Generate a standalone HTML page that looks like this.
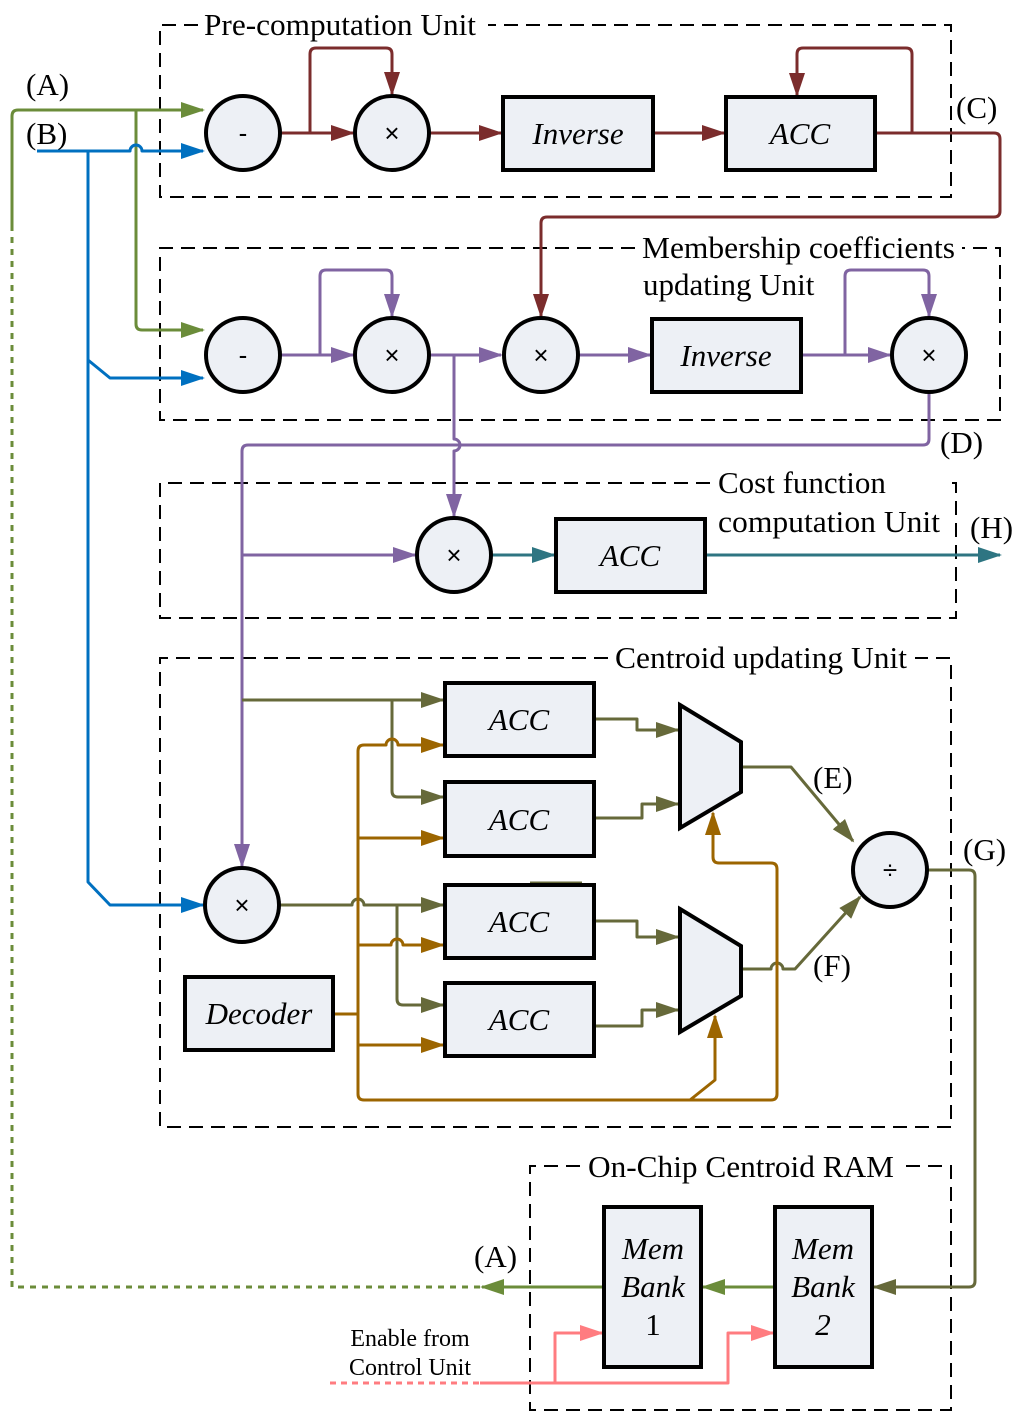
<!DOCTYPE html>
<html><head><style>body{margin:0;background:#fff}svg{display:block}</style></head><body>
<svg width="1024" height="1422" viewBox="0 0 1024 1422" xmlns="http://www.w3.org/2000/svg" font-family="Liberation Serif, serif">
<defs>
<style>.l{fill:none;stroke-width:3;stroke-linejoin:round}.bx{fill:#edf0f5;stroke:#000;stroke-width:4}.d{fill:none;stroke:#000;stroke-width:2;stroke-dasharray:14,8}</style>
<marker id="aG" markerWidth="24" markerHeight="18" refX="22" refY="9" orient="auto" markerUnits="userSpaceOnUse"><path d="M0,1L24,9L0,17z" fill="#6b8c3a"/></marker>
<marker id="aB" markerWidth="24" markerHeight="18" refX="22" refY="9" orient="auto" markerUnits="userSpaceOnUse"><path d="M0,1L24,9L0,17z" fill="#0070c0"/></marker>
<marker id="aR" markerWidth="24" markerHeight="18" refX="22" refY="9" orient="auto" markerUnits="userSpaceOnUse"><path d="M0,1L24,9L0,17z" fill="#7b2c2c"/></marker>
<marker id="aP" markerWidth="24" markerHeight="18" refX="22" refY="9" orient="auto" markerUnits="userSpaceOnUse"><path d="M0,1L24,9L0,17z" fill="#8064a2"/></marker>
<marker id="aT" markerWidth="24" markerHeight="18" refX="22" refY="9" orient="auto" markerUnits="userSpaceOnUse"><path d="M0,1L24,9L0,17z" fill="#2e7582"/></marker>
<marker id="aO" markerWidth="24" markerHeight="18" refX="22" refY="9" orient="auto" markerUnits="userSpaceOnUse"><path d="M0,1L24,9L0,17z" fill="#66693a"/></marker>
<marker id="aY" markerWidth="24" markerHeight="18" refX="22" refY="9" orient="auto" markerUnits="userSpaceOnUse"><path d="M0,1L24,9L0,17z" fill="#9c6500"/></marker>
<marker id="aK" markerWidth="24" markerHeight="18" refX="22" refY="9" orient="auto" markerUnits="userSpaceOnUse"><path d="M0,1L24,9L0,17z" fill="#ff7c80"/></marker>
</defs>

<path class="d" d="M198,25H160V197H951V25H488"/>
<path class="d" d="M635,248H160V420H1000V248H962"/>
<path class="d" d="M710,483H160V618H956V483H945"/>
<path class="d" d="M608,658H160V1127H951V658H915"/>
<path class="d" d="M580,1166H530V1410H951V1166H905"/>
<g font-size="31" fill="#000">
<text x="204" y="35" textLength="272" lengthAdjust="spacingAndGlyphs">Pre-computation Unit</text>
<text x="642" y="258" textLength="313" lengthAdjust="spacingAndGlyphs">Membership coefficients</text>
<text x="643" y="295">updating Unit</text>
<text x="718" y="493">Cost function</text>
<text x="718" y="532" textLength="222" lengthAdjust="spacingAndGlyphs">computation Unit</text>
<text x="615" y="668" textLength="292" lengthAdjust="spacingAndGlyphs">Centroid updating Unit</text>
<text x="588" y="1177" textLength="306" lengthAdjust="spacingAndGlyphs">On-Chip Centroid RAM</text>
<text x="26" y="95">(A)</text><text x="26" y="144">(B)</text>
<text x="956" y="118">(C)</text><text x="940" y="453">(D)</text>
<text x="970" y="538">(H)</text><text x="813" y="788">(E)</text>
<text x="813" y="976">(F)</text><text x="963" y="860">(G)</text>
<text x="474" y="1267">(A)</text>
</g>
<text x="410" y="1346" font-size="24" text-anchor="middle">Enable from</text>
<text x="410" y="1375" font-size="24" text-anchor="middle">Control Unit</text>

<path class="l" stroke="#6b8c3a" d="M12,225V116Q12,110 18,110H203" marker-end="url(#aG)"/>
<path class="l" stroke="#6b8c3a" d="M136,110V324Q136,330 142,330H203" marker-end="url(#aG)"/>
<path class="l" stroke="#6b8c3a" stroke-dasharray="6,6" d="M12,225V1287H480"/>
<path class="l" stroke="#6b8c3a" d="M604,1287H482" marker-end="url(#aG)"/>
<path class="l" stroke="#6b8c3a" d="M775,1287H703" marker-end="url(#aG)"/>
<path class="l" stroke="#0070c0" d="M37,151H130A6,6 0 0 1 142,151H203" marker-end="url(#aB)"/>
<path class="l" stroke="#0070c0" d="M88,151V360L110,378H203" marker-end="url(#aB)"/>
<path class="l" stroke="#0070c0" d="M88,360V882L110,905H203" marker-end="url(#aB)"/>
<path class="l" stroke="#7b2c2c" d="M280,133H353" marker-end="url(#aR)"/>
<path class="l" stroke="#7b2c2c" d="M310,133V54Q310,48 316,48H386Q392,48 392,54V94" marker-end="url(#aR)"/>
<path class="l" stroke="#7b2c2c" d="M430,133H501" marker-end="url(#aR)"/>
<path class="l" stroke="#7b2c2c" d="M653,133H724" marker-end="url(#aR)"/>
<path class="l" stroke="#7b2c2c" d="M875,133H994Q1000,133 1000,139V211Q1000,217 994,217H547Q541,217 541,223V316" marker-end="url(#aR)"/>
<path class="l" stroke="#7b2c2c" d="M912,133V54Q912,48 906,48H803Q797,48 797,54V95" marker-end="url(#aR)"/>
<path class="l" stroke="#8064a2" d="M280,355H353" marker-end="url(#aP)"/>
<path class="l" stroke="#8064a2" d="M320,355V276Q320,270 326,270H386Q392,270 392,276V316" marker-end="url(#aP)"/>
<path class="l" stroke="#8064a2" d="M430,355H501" marker-end="url(#aP)"/>
<path class="l" stroke="#8064a2" d="M579,355H650" marker-end="url(#aP)"/>
<path class="l" stroke="#8064a2" d="M801,355H890" marker-end="url(#aP)"/>
<path class="l" stroke="#8064a2" d="M845,355V276Q845,270 851,270H923Q929,270 929,276V316" marker-end="url(#aP)"/>
<path class="l" stroke="#8064a2" d="M454,355V439A6,6 0 0 1 454,451V516" marker-end="url(#aP)"/>
<path class="l" stroke="#8064a2" d="M929,392V439Q929,445 923,445H248Q242,445 242,451V866" marker-end="url(#aP)"/>
<path class="l" stroke="#8064a2" d="M242,555H415" marker-end="url(#aP)"/>
<path class="l" stroke="#2e7582" d="M492,555H554" marker-end="url(#aT)"/>
<path class="l" stroke="#2e7582" d="M705,555H1000" marker-end="url(#aT)"/>
<path class="l" stroke="#66693a" d="M242,700H443" marker-end="url(#aO)"/>
<path class="l" stroke="#66693a" d="M392,700V791Q392,797 398,797H443" marker-end="url(#aO)"/>
<path class="l" stroke="#66693a" d="M280,905H352A6,6 0 0 1 364,905H443" marker-end="url(#aO)"/>
<path class="l" stroke="#66693a" d="M397,905V999Q397,1005 403,1005H443" marker-end="url(#aO)"/>
<path class="l" stroke="#66693a" d="M530,883H582"/>
<path class="l" stroke="#66693a" d="M594,719H637V730H678" marker-end="url(#aO)"/>
<path class="l" stroke="#66693a" d="M594,818H642V804H678" marker-end="url(#aO)"/>
<path class="l" stroke="#66693a" d="M594,921H637V937H678" marker-end="url(#aO)"/>
<path class="l" stroke="#66693a" d="M594,1026H642V1010H678" marker-end="url(#aO)"/>
<path class="l" stroke="#66693a" d="M741,767H791L853,841" marker-end="url(#aO)"/>
<path class="l" stroke="#66693a" d="M741,969H771A6,6 0 0 1 783,969H795L860,897" marker-end="url(#aO)"/>
<path class="l" stroke="#66693a" d="M927,870H969Q975,870 975,876V1281Q975,1287 969,1287H874" marker-end="url(#aO)"/>
<path class="l" stroke="#9c6500" d="M333,1014H358"/>
<path class="l" stroke="#9c6500" d="M358,800V751Q358,745 364,745H386A6,6 0 0 1 398,745H443" marker-end="url(#aY)"/>
<path class="l" stroke="#9c6500" d="M358,800V1094Q358,1100 364,1100H771Q777,1100 777,1094V869Q777,863 771,863H719Q713,863 713,857V813" marker-end="url(#aY)"/>
<path class="l" stroke="#9c6500" d="M358,838H443" marker-end="url(#aY)"/>
<path class="l" stroke="#9c6500" d="M358,945H391A6,6 0 0 1 403,945H443" marker-end="url(#aY)"/>
<path class="l" stroke="#9c6500" d="M358,1045H443" marker-end="url(#aY)"/>
<path class="l" stroke="#9c6500" d="M690,1100L715,1080V1016" marker-end="url(#aY)"/>
<path class="l" stroke="#ff7c80" stroke-dasharray="6,5" d="M330,1383H480"/>
<path class="l" stroke="#ff7c80" d="M480,1383H728V1333H773" marker-end="url(#aK)"/>
<path class="l" stroke="#ff7c80" d="M555,1383V1333H602" marker-end="url(#aK)"/>

<g class="bx">
<circle cx="243" cy="133" r="37"/><circle cx="392" cy="133" r="37"/>
<circle cx="243" cy="355" r="37"/><circle cx="392" cy="355" r="37"/><circle cx="541" cy="355" r="37"/><circle cx="929" cy="355" r="37"/>
<circle cx="454" cy="555" r="37"/><circle cx="242" cy="905" r="37"/><circle cx="890" cy="870" r="37"/>
<rect x="503" y="97" width="150" height="73"/><rect x="726" y="97" width="149" height="73"/>
<rect x="652" y="319" width="149" height="73"/><rect x="556" y="519" width="149" height="73"/>
<rect x="445" y="683" width="149" height="73"/><rect x="445" y="782" width="149" height="74"/>
<rect x="445" y="885" width="149" height="73"/><rect x="445" y="983" width="149" height="73"/>
<rect x="185" y="977" width="148" height="73"/>
<rect x="604" y="1207" width="97" height="160"/><rect x="775" y="1207" width="97" height="160"/>
<path d="M680,705L741,742V792L680,828Z"/><path d="M680,909L741,946V996L680,1032Z"/>
</g>
<g font-size="26" text-anchor="middle" font-family="Liberation Sans, sans-serif">
<text x="243" y="142">-</text><text x="392" y="142">×</text>
<text x="243" y="364">-</text><text x="392" y="364">×</text><text x="541" y="364">×</text><text x="929" y="364">×</text>
<text x="454" y="564">×</text><text x="242" y="914">×</text><text x="890" y="879">÷</text>
</g>
<g font-size="31" font-style="italic" text-anchor="middle">
<text x="578" y="144">Inverse</text><text x="800" y="144">ACC</text>
<text x="726" y="366">Inverse</text><text x="630" y="566">ACC</text>
<text x="519" y="730">ACC</text><text x="519" y="830">ACC</text>
<text x="519" y="932">ACC</text><text x="519" y="1030">ACC</text>
<text x="259" y="1024">Decoder</text>
<text x="653" y="1259">Mem</text><text x="653" y="1297">Bank</text><text x="653" y="1335" font-style="normal">1</text>
<text x="823" y="1259">Mem</text><text x="823" y="1297">Bank</text><text x="823" y="1335">2</text>
</g>
</svg>
</body></html>
